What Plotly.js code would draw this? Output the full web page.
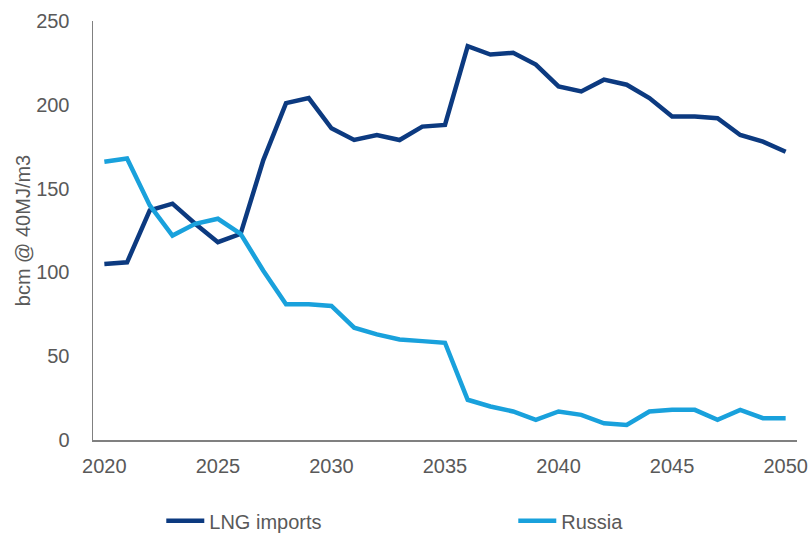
<!DOCTYPE html>
<html>
<head>
<meta charset="utf-8">
<script src="https://cdn.plot.ly/plotly-3.0.1.min.js"></script>
<style>html,body{margin:0;padding:0;background:#fff;}#chart{width:809px;height:533px;}</style>
</head>
<body>
<div id="chart"></div>
<script>
const years = [2020,2021,2022,2023,2024,2025,2026,2027,2028,2029,2030,2031,2032,2033,2034,2035,2036,2037,2038,2039,2040,2041,2042,2043,2044,2045,2046,2047,2048,2049,2050];
const lngImports = [105,106,137,141,129,118,123,167,201,204,186,179,182,179,187,188,235,230,231,224,211,208,215,212,204,193,193,192,182,178,172];
const russia = [166,168,140,122,129,132,123,101,81,81,80,67,63,60,59,58,24,20,17,12,17,15,10,9,17,18,18,12,18,13,13];
const seriesNames = ['LNG imports','Russia'];
const tickYears = [2020,2025,2030,2035,2040,2045,2050];
const tickValsY = [0,50,100,150,200,250];

const font = {family:'"Liberation Sans", Arial, sans-serif', size:20, color:'#595959'};

const traces = [
  {x:years, y:lngImports, name:seriesNames[0], type:'scatter', mode:'lines',
   line:{color:'#0c3a80', width:4.5}, legend:'legend'},
  {x:years, y:russia, name:seriesNames[1], type:'scatter', mode:'lines',
   line:{color:'#19a1dc', width:4.5}, legend:'legend2'}
];

const legendBase = {orientation:'h', xanchor:'left', yanchor:'middle', y:-0.193, font:font,
                    bgcolor:'rgba(0,0,0,0)', borderwidth:0, itemwidth:38};

const layout = {
  width:809, height:533,
  margin:{l:93, r:12, t:21, b:93, autoexpand:false},
  paper_bgcolor:'#ffffff', plot_bgcolor:'#ffffff',
  font:font,
  showlegend:true,
  legend:Object.assign({}, legendBase, {x:0.097}),
  legend2:Object.assign({}, legendBase, {x:0.597}),
  xaxis:{range:[2019.5,2050.5], tickvals:tickYears, ticktext:tickYears.map(String),
         showgrid:false, zeroline:false, showline:true, linecolor:'#808080', linewidth:1.5,
         ticks:'', ticklabelstandoff:7, tickfont:font, fixedrange:true, automargin:false},
  yaxis:{range:[0,250], tickvals:tickValsY, showgrid:false, zeroline:false,
         showline:true, linecolor:'#808080', linewidth:1.5, ticks:'', ticklabelstandoff:18,
         tickfont:font, automargin:false,
         title:{text:'bcm @ 40MJ/m3', font:font, standoff:0}}
};

Plotly.newPlot('chart', traces, layout, {displayModeBar:false, staticPlot:true});
</script>
</body>
</html>
